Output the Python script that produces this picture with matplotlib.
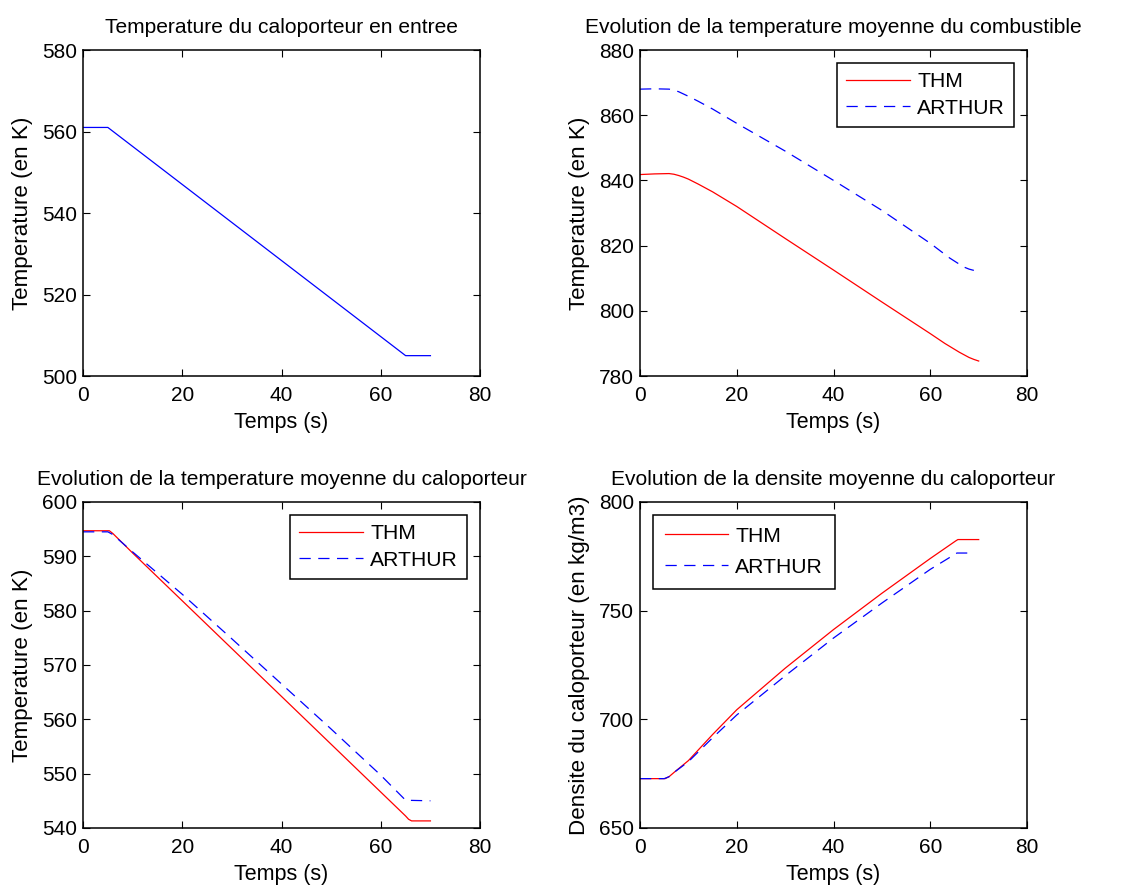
import numpy as np
import matplotlib
matplotlib.use('Agg')
import matplotlib.pyplot as plt

plt.rcParams['font.family'] = ['Liberation Sans', 'DejaVu Sans']

# inlet coolant temperature
t_in = [0, 5, 65, 70]
T_in = [561, 561, 505, 505]

# mean fuel temperature
t_fuel_thm = [0, 3, 6, 7, 8, 9, 10, 12, 15, 20, 30, 40, 50, 60, 63, 65, 66, 67, 68, 69, 70]
T_fuel_thm = [841.8, 842.0, 842.1, 841.9, 841.5, 841.0, 840.4, 838.9, 836.5, 832.0, 822.2, 812.5, 802.7, 793.0, 790.0, 788.2, 787.3, 786.5, 785.7, 785.1, 784.6]
t_fuel_art = [0, 3, 6, 7, 8, 9, 10, 12, 15, 20, 30, 40, 50, 60, 64, 66, 67, 68, 69]
T_fuel_art = [868.0, 868.1, 868.0, 867.7, 867.2, 866.5, 865.8, 864.3, 861.9, 857.5, 849.0, 840.0, 830.8, 820.7, 816.2, 814.3, 813.4, 812.8, 812.4]

# mean coolant temperature
t_cool_thm = [0, 5.3, 6, 10, 20, 30, 40, 50, 60, 65, 65.6, 66.2, 70]
T_cool_thm = [594.7, 594.7, 594.2, 590.6, 581.8, 573.0, 564.2, 555.4, 546.6, 542.2, 541.6, 541.3, 541.3]
t_cool_art = [0, 5, 6, 7, 10, 15, 20, 30, 40, 50, 60, 65, 70]
T_cool_art = [594.5, 594.5, 594.0, 593.2, 590.8, 586.9, 583.0, 574.8, 566.5, 558.2, 549.7, 545.1, 545.0]

# mean coolant density
t_dens_thm = [0, 5.2, 6, 7, 10, 15, 20, 30, 40, 50, 60, 65.2, 65.7, 70]
d_dens_thm = [672.7, 672.7, 673.6, 675.5, 681.0, 693.0, 704.4, 723.5, 741.3, 758.0, 774.0, 782.0, 782.7, 782.7]
t_dens_art = [0, 5, 6, 7, 10, 15, 20, 30, 40, 50, 60, 65.5, 69]
d_dens_art = [672.7, 672.7, 673.6, 675.5, 680.5, 691.5, 702.0, 720.0, 737.4, 753.5, 769.0, 776.5, 776.5]

fs = 15
dash = (9, 6)

fig = plt.figure(figsize=(11.33, 8.9), dpi=100)
w, h = 0.3504, 0.3663
ax1 = fig.add_axes([0.0733, 0.5775, w, h])
ax2 = fig.add_axes([0.5649, 0.5775, 0.3416, h])
ax3 = fig.add_axes([0.0733, 0.0697, w, h])
ax4 = fig.add_axes([0.5649, 0.0697, 0.3416, h])

ax1.plot(t_in, T_in, color='b', lw=0.9)

ax2.plot(t_fuel_thm, T_fuel_thm, color='r', lw=0.9, label='THM')
ax2.plot(t_fuel_art, T_fuel_art, color='b', lw=0.9, dashes=dash, label='ARTHUR')

ax3.plot(t_cool_thm, T_cool_thm, color='r', lw=0.9, label='THM')
ax3.plot(t_cool_art, T_cool_art, color='b', lw=0.9, dashes=dash, label='ARTHUR')

ax4.plot(t_dens_thm, d_dens_thm, color='r', lw=0.9, label='THM')
ax4.plot(t_dens_art, d_dens_art, color='b', lw=0.9, dashes=dash, label='ARTHUR')

setup = [
    (ax1, 'Temperature du caloporteur en entree', 'Temperature (en K)', (500, 580), np.arange(500, 581, 20)),
    (ax2, 'Evolution de la temperature moyenne du combustible', 'Temperature (en K)', (780, 880), np.arange(780, 881, 20)),
    (ax3, 'Evolution de la temperature moyenne du caloporteur', 'Temperature (en K)', (540, 600), np.arange(540, 601, 10)),
    (ax4, 'Evolution de la densite moyenne du caloporteur', 'Densite du caloporteur (en kg/m3)', (650, 800), np.arange(650, 801, 50)),
]
for ax, title, ylab, ylim, yt in setup:
    ax.set_xlim(0, 80)
    ax.set_xticks(np.arange(0, 81, 20))
    ax.set_ylim(*ylim)
    ax.set_yticks(yt)
    ax.set_title(title, fontsize=15.1, pad=12)
    ax.set_xlabel('Temps (s)', fontsize=15.5, labelpad=5)
    ax.set_ylabel(ylab, fontsize=16.1, labelpad=6)
    ax.tick_params(direction='in', top=True, right=True, length=5, width=0.8, labelsize=fs)
    ax.tick_params(axis='x', pad=7)
    ax.tick_params(axis='y', pad=4.5)
    for s in ax.spines.values():
        s.set_linewidth(1.1)

for ax, loc, sp in [(ax2, 'upper right', 0.35), (ax3, 'upper right', 0.35), (ax4, 'upper left', 0.58)]:
    leg = ax.legend(loc=loc, fontsize=15.2, fancybox=False, edgecolor='black',
                    framealpha=1, handlelength=3.0, handletextpad=0.35,
                    borderpad=0.45 + (sp - 0.35) / 2, labelspacing=sp, borderaxespad=0.6)
    leg.get_frame().set_linewidth(1.1)

fig.savefig('out.png', dpi=100)
